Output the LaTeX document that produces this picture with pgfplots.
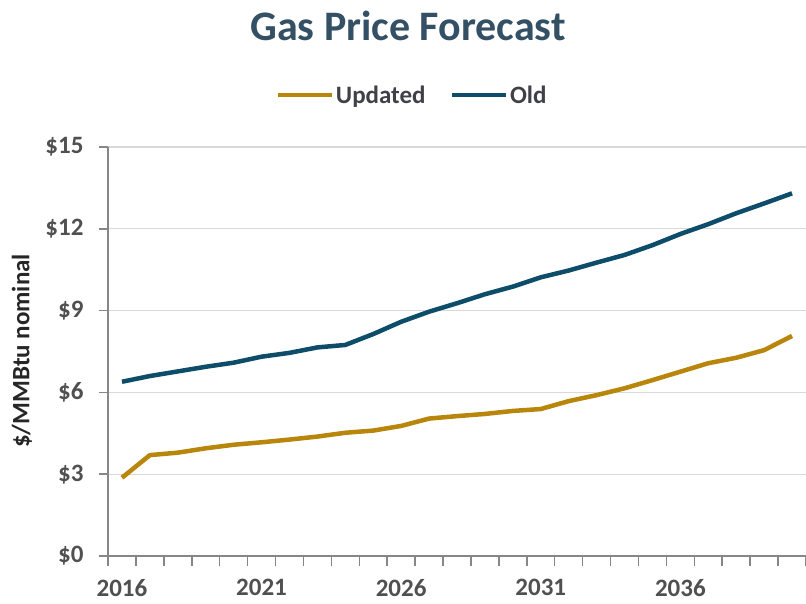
\documentclass[border=0pt]{standalone}
\usepackage{fontspec}
\setmainfont{Carlito}
\usepackage{pgfplots}
\pgfplotsset{compat=1.18}
\definecolor{gold}{RGB}{184,134,11}
\definecolor{oldblue}{RGB}{14,77,106}
\definecolor{titlecol}{RGB}{52,80,100}
\definecolor{ticklab}{RGB}{80,80,80}
\definecolor{legtext}{RGB}{64,64,72}
\definecolor{axcol}{RGB}{134,134,134}
\definecolor{gridcol}{RGB}{217,217,217}
\pgfplotstableread{
x updated old
0 2.87 6.39
1 3.70 6.60
2 3.79 6.77
3 3.95 6.94
4 4.08 7.09
5 4.17 7.31
6 4.27 7.45
7 4.38 7.65
8 4.52 7.74
9 4.60 8.14
10 4.77 8.59
11 5.04 8.96
12 5.13 9.27
13 5.21 9.60
14 5.32 9.88
15 5.39 10.22
16 5.68 10.47
17 5.90 10.76
18 6.15 11.04
19 6.45 11.40
20 6.76 11.81
21 7.07 12.17
22 7.27 12.57
23 7.55 12.93
24 8.07 13.30
}\gasdata
\begin{document}
\begin{tikzpicture}[x=1pt,y=1pt]
\useasboundingbox (0,0) rectangle (806,603);
\node[font=\bfseries\fontsize{42}{46}\selectfont, text=titlecol] at (408,577) {Gas Price Forecast};
\node[font=\bfseries\fontsize{25}{28}\selectfont, text=black!85, rotate=90] at (22,252) {\$/MMBtu nominal};
\begin{axis}[
  at={(108pt,47pt)}, anchor=south west,
  scale only axis, width=698pt, height=409pt,
  xmin=-0.5, xmax=24.5, ymin=0, ymax=15,
  ytick={0,3,...,15}, yticklabels={\$0,\$3,\$6,\$9,\$12,\$15},
  xtick={0,5,10,15,20}, xticklabels={2016,2021,2026,2031,2036},
  minor xtick={-0.5,0.5,...,24.5},
  axis lines*=left,
  axis line style={draw=axcol, line width=1.5pt},
  tick align=outside,
  major tick length=9pt,
  minor tick length=10pt,
  xtick style={draw=none},
  minor x tick style={draw=axcol, line width=1.5pt},
  ytick style={draw=axcol, line width=1.5pt},
  ymajorgrids,
  grid style={draw=gridcol, line width=1.3pt},
  tick label style={font=\bfseries\fontsize{25}{28}\selectfont, text=ticklab},
  xticklabel style={yshift=-11pt},
  yticklabel style={xshift=-12pt},
  legend style={at={(0.4355,1.127)}, anchor=center, draw=none, fill=none,
    legend columns=2, font=\bfseries\fontsize{25}{28}\selectfont, text=legtext,
    /tikz/every even column/.append style={column sep=22pt},
    inner sep=0pt},
  legend image code/.code={\draw[#1, line width=4.5pt] (0pt,0pt) -- (54pt,0pt);},
  clip=false,
]
\addplot[gold, line width=4.5pt, line join=round] table[x=x, y=updated] {\gasdata};
\addlegendentry{Updated}
\addplot[oldblue, line width=4.5pt, line join=round] table[x=x, y=old] {\gasdata};
\addlegendentry{Old}
\end{axis}
\end{tikzpicture}
\end{document}
